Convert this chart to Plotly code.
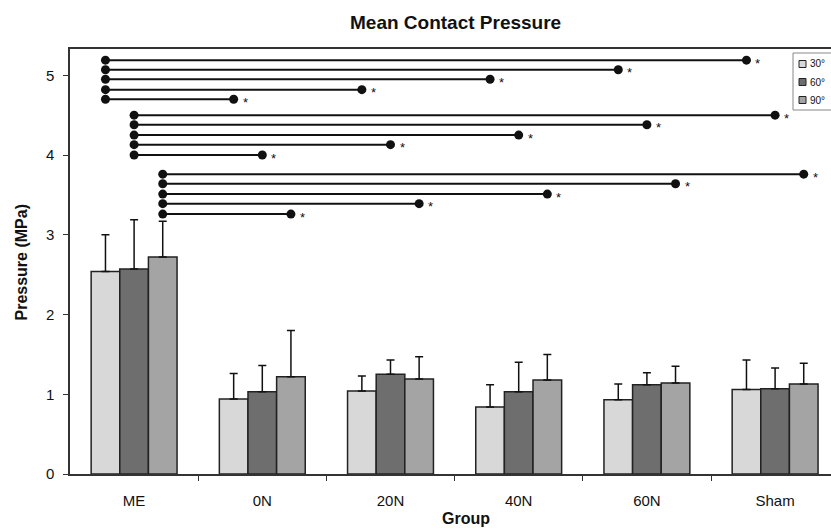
import plotly.graph_objects as go

# ---- data ----
groups = ["ME", "0N", "20N", "40N", "60N", "Sham"]
angles = ["30°", "60°", "90°"]
mean_30 = [2.54, 0.94, 1.04, 0.84, 0.93, 1.06]
mean_60 = [2.57, 1.03, 1.25, 1.03, 1.12, 1.07]
mean_90 = [2.72, 1.22, 1.19, 1.18, 1.14, 1.13]
sd_30 = [0.46, 0.32, 0.19, 0.28, 0.20, 0.37]
sd_60 = [0.62, 0.33, 0.18, 0.37, 0.15, 0.26]
sd_90 = [0.45, 0.58, 0.28, 0.32, 0.21, 0.26]
# significance brackets: from ME (same angle) to 0N, 20N, 40N, 60N, Sham
sig_levels_30 = [4.70, 4.82, 4.95, 5.07, 5.19]
sig_levels_60 = [4.00, 4.13, 4.25, 4.38, 4.50]
sig_levels_90 = [3.26, 3.39, 3.51, 3.64, 3.76]
y_ticks = [0, 1, 2, 3, 4, 5]

# ---- style ----
FONT = "Liberation Sans, Arial, sans-serif"
colors = ["#d8d8d8", "#6e6e6e", "#a4a4a4"]
W, H = 831, 529
ML, MR, MT, MB = 70, 0, 49, 55
BARGAP = 0.33
PW = W - ML - MR
PH = H - MT - MB

def px_x(p):
    return (p - ML) / PW

def px_y(p):
    return (H - MB - p) / PH

means = [mean_30, mean_60, mean_90]
sds = [sd_30, sd_60, sd_90]
levels = [sig_levels_30, sig_levels_60, sig_levels_90]
xs = list(range(len(groups)))
bw = (1 - BARGAP) / 3

fig = go.Figure()
for j, ang in enumerate(angles):
    fig.add_trace(go.Bar(
        x=xs, y=means[j], name=ang,
        marker=dict(color=colors[j], line=dict(color="#222222", width=1.5)),
        error_y=dict(type="data", array=sds[j], arrayminus=[0] * len(xs),
                     symmetric=False, color="#111111", thickness=1.5, width=4),
        showlegend=False,
    ))

annotations = []
for j in range(3):
    off = (j - 1) * bw
    for k, lev in enumerate(levels[j]):
        x0 = xs[0] + off
        x1 = xs[k + 1] + off
        fig.add_trace(go.Scatter(
            x=[x0, x1], y=[lev, lev], mode="lines+markers",
            line=dict(color="#111111", width=2),
            marker=dict(color="#111111", size=9),
            showlegend=False, hoverinfo="skip",
        ))
        annotations.append(dict(
            x=x1, y=lev, xref="x", yref="y", text="*", showarrow=False,
            xanchor="left", yanchor="middle", xshift=7, yshift=-3,
            font=dict(family=FONT, size=13, color="#111111"),
        ))

# title and axis titles
annotations.append(dict(x=px_x(455), y=px_y(23), xref="paper", yref="paper",
                        text="Mean Contact Pressure", showarrow=False,
                        xanchor="center", yanchor="middle",
                        font=dict(family=FONT, size=19, color="#111111", weight="bold")))
annotations.append(dict(x=px_x(21), y=0.5, xref="paper", yref="paper",
                        text="Pressure (MPa)", showarrow=False, textangle=-90,
                        xanchor="center", yanchor="middle",
                        font=dict(family=FONT, size=16, color="#111111", weight="bold")))
annotations.append(dict(x=px_x(466), y=px_y(518), xref="paper", yref="paper",
                        text="Group", showarrow=False,
                        xanchor="center", yanchor="middle",
                        font=dict(family=FONT, size=16, color="#111111", weight="bold")))

# manual legend
shapes = [dict(type="rect", xref="paper", yref="paper",
               x0=px_x(793), x1=px_x(845), y0=px_y(110), y1=px_y(53),
               line=dict(color="#888888", width=1), fillcolor="white")]
for j, ang in enumerate(angles):
    cy = 64 + 18 * j
    shapes.append(dict(type="rect", xref="paper", yref="paper",
                       x0=px_x(799), x1=px_x(806), y0=px_y(cy + 3.5), y1=px_y(cy - 3.5),
                       line=dict(color="#222222", width=1), fillcolor=colors[j]))
    annotations.append(dict(x=px_x(808), y=px_y(cy), xref="paper", yref="paper",
                            text=ang, showarrow=False, xanchor="left", yanchor="middle",
                            font=dict(family=FONT, size=10, color="#111111")))

fig.update_layout(
    width=W, height=H, autosize=False,
    margin=dict(l=ML, r=MR, t=MT, b=MB, pad=0),
    paper_bgcolor="white", plot_bgcolor="white",
    barmode="group", bargap=BARGAP, bargroupgap=0,
    font=dict(family=FONT, color="#111111"),
    annotations=annotations, shapes=shapes,
    xaxis=dict(range=[-0.5, -0.5 + PW / 128.2], tickvals=xs, ticktext=groups,
               ticks="", showgrid=False, zeroline=False,
               showline=True, linecolor="#333333", linewidth=2, mirror=True,
               tickfont=dict(family=FONT, size=15, color="#111111"),
               ticklabelstandoff=12,
               minor=dict(tickvals=[x + 0.5 for x in xs[:-1]], ticks="outside",
                          ticklen=5, tickwidth=1, tickcolor="#333333", showgrid=False)),
    yaxis=dict(range=[0, 5.33], tickvals=y_ticks, ticks="outside", ticklen=5,
               tickwidth=1, tickcolor="#333333", showgrid=False, zeroline=False,
               showline=True, linecolor="#333333", linewidth=1.5,
               tickfont=dict(family=FONT, size=15, color="#111111"),
               ticklabelstandoff=6),
)

fig.write_html("out.html", config={"displayModeBar": False},
               post_script="document.body.style.margin='0';document.body.style.overflow='hidden';")
